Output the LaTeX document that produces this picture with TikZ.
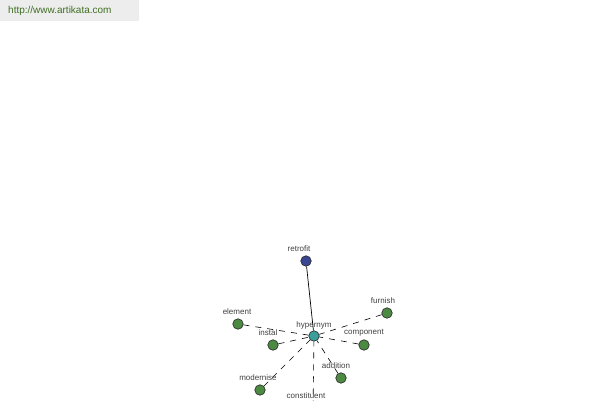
\documentclass[tikz,border=0pt]{standalone}
\usepackage{fontspec}
\setmainfont{Liberation Sans}
\definecolor{leaf}{HTML}{4C8A42}
\definecolor{hubc}{HTML}{3C9E9A}
\definecolor{srcc}{HTML}{3A4692}
\definecolor{urlc}{HTML}{3F6E22}
\begin{document}
\begin{tikzpicture}[x=1pt,y=-1pt,
  dot/.style={circle,draw=black!85,line width=0.6pt,fill=leaf,minimum size=10.5pt,inner sep=0pt},
  hub/.style={dot,fill=hubc},
  src/.style={dot,fill=srcc},
  lbl/.style={font=\fontsize{8}{9}\selectfont,text=black!75,inner sep=0pt},
  rel/.style={dashed,dash pattern=on 6pt off 6pt,line width=0.6pt},
  hyp/.style={line width=0.7pt}]
\useasboundingbox (0,0) rectangle (600,400);
\clip (0,0) rectangle (600,400);
\fill[white] (0,0) rectangle (600,400);
\node[fill=black!7,minimum width=139pt,minimum height=21pt,anchor=north west,inner sep=0pt] (banner) at (0,0) {};
\node[font=\fontsize{10}{11}\selectfont,text=urlc,anchor=west,inner sep=0pt] (url) at (8,11) {http://www.artikata.com};
% nodes
\node[hub] (h) at (314,336) {};
\node[src] (r) at (306,261) {};
\node[dot] (fu) at (387,313) {};
\node[dot] (el) at (238,324) {};
\node[dot] (in) at (273,345) {};
\node[dot] (co) at (364,345) {};
\node[dot] (ad) at (341,378) {};
\node[dot] (mo) at (260,390) {};
\node[dot] (cn) at (313,412) {};
% connectors
\draw[hyp] (r) -- (h);
\foreach \n in {fu,el,in,co,ad,mo,cn} \draw[rel] (\n) -- (h);
% labels
\node[lbl] (lh) at (314,325) {hypernym};
\node[lbl] (lr) at (299,249) {retrofit};
\node[lbl] (lfu) at (383,301) {furnish};
\node[lbl] (lel) at (237,312) {element};
\node[lbl] (lin) at (268,333) {instal};
\node[lbl] (lco) at (364,333) {component};
\node[lbl] (lad) at (336,366) {addition};
\node[lbl] (lmo) at (258,378) {modernise};
\node[lbl] (lcn) at (306,396) {constituent};
\end{tikzpicture}
\end{document}
